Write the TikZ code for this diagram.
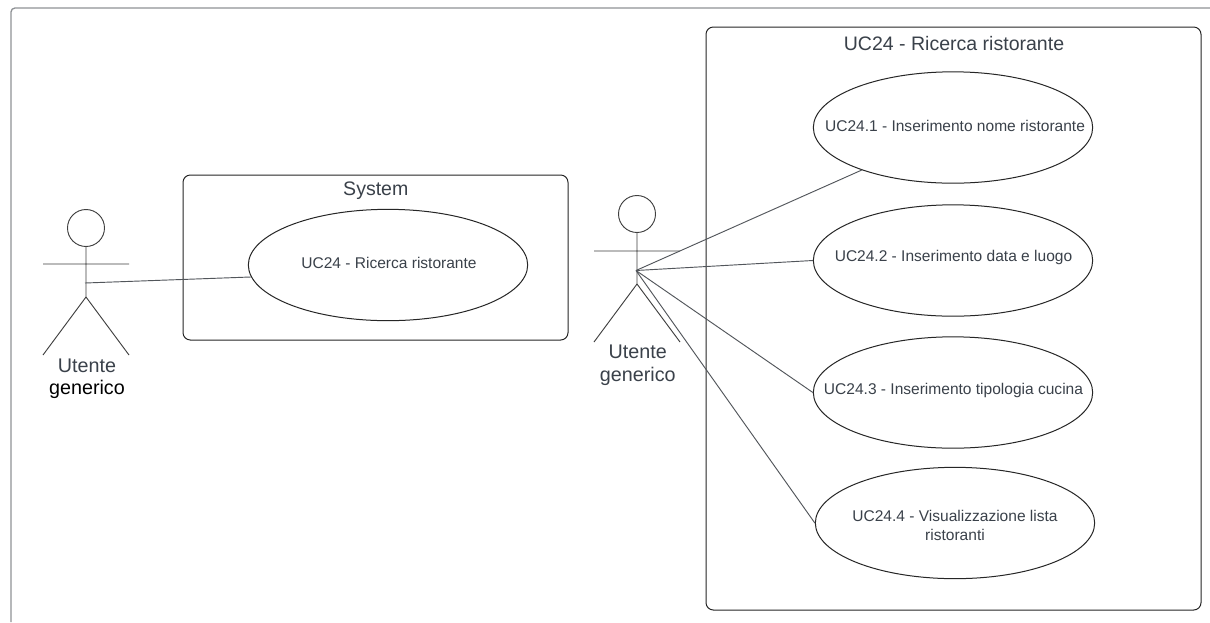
\documentclass[tikz,border=0pt]{standalone}
\usepackage{fontspec}
\setmainfont{Liberation Sans}
\usetikzlibrary{shapes.geometric}
\definecolor{ink}{HTML}{3A414A}
\definecolor{linec}{HTML}{33383E}
\definecolor{framec}{HTML}{8F9296}
\tikzset{
  x=0.75pt,y=-0.75pt,
  sysbox/.style={draw=black!85,line width=0.75pt,rounded corners=5.5pt,inner sep=0pt},
  usecase/.style={draw=black!85,line width=0.75pt,ellipse,inner sep=0pt,minimum width=209.5pt,minimum height=83.5pt},
  uctext/.style={align=center,text=ink,font=\fontsize{11.65}{14.25}\selectfont,inner sep=0pt},
  conn/.style={draw=linec!85,line width=0.7pt},
  stick/.style={draw=black!75,line width=0.7pt},
  actorlabel/.style={text=ink,font=\fontsize{14.8}{17.25}\selectfont,inner sep=0pt,align=center},
  title/.style={text=ink,font=\fontsize{14.65}{16}\selectfont,inner sep=0pt},
}
\begin{document}
\begin{tikzpicture}
\useasboundingbox (0,0) rectangle (1210,622);
\fill[white] (0,0) rectangle (1210,622);
\draw[draw=framec,line width=1pt,rounded corners=3pt] (11,622) -- (11,8) -- (1210,8);
% system box
\draw[sysbox] (183,175) rectangle (568,340);
\node[title] (systitle) at (375.8,191) {System};
\node[usecase] (uc) at (388,265) {};
\node[uctext] (uct) at (389,262.5) {UC24 - Ricerca ristorante};
% detail box
\draw[sysbox] (706,27) rectangle (1201,610);
\node[title] (dettitle) at (954,43.5) {UC24 - Ricerca ristorante};
\node[usecase] (e1) at (953,127.5) {};
\node[usecase] (e2) at (953,260.5) {};
\node[usecase] (e3) at (953,392.5) {};
\node[usecase] (e4) at (955,523) {};
\node[uctext] (e1t) at (955,125.5) {UC24.1 - Inserimento nome ristorante};
\node[uctext] (e2t) at (953.5,257.5) {UC24.2 - Inserimento data e luogo};
\node[uctext] (e3t) at (953.5,390.5) {UC24.3 - Inserimento tipologia cucina};
\node[uctext] (e4t) at (955,525.5) {UC24.4 - Visualizzazione lista\\ristoranti};
% actor 1
\node[stick,draw,circle,minimum size=27.75pt,inner sep=0pt] (h1) at (86,228) {};
\coordinate (hip1) at (86,297);
\coordinate (a1l) at (43,264);
\coordinate (a1r) at (129,264);
\coordinate (l1l) at (43,355);
\coordinate (l1r) at (129,355);
\coordinate (c1) at (85,283);
\draw[stick] (h1.south) -- (hip1) (a1l) -- (a1r) (l1l) -- (hip1) -- (l1r);
\node[actorlabel] (n1) at (87,366) {Utente};
\node[actorlabel,text=black] (n1b) at (87,389) {generico};
\draw[conn] (c1) -- (uc.185);
% actor 2
\node[stick,draw,circle,minimum size=27.75pt,inner sep=0pt] (h2) at (637,214) {};
\coordinate (hip2) at (637,284);
\coordinate (a2l) at (594,251);
\coordinate (a2r) at (680,251);
\coordinate (l2l) at (594,342);
\coordinate (l2r) at (680,342);
\coordinate (c2) at (636,270.5);
\draw[stick] (h2.south) -- (hip2) (a2l) -- (a2r) (l2l) -- (hip2) -- (l2r);
\node[actorlabel] (n2) at (637.8,365) {Utente\\generico};
\draw[conn] (c2) -- (e1.205);
\draw[conn] (c2) -- (e2.west);
\draw[conn] (c2) -- (e3.west);
\draw[conn] (c2) -- (e4.west);
\end{tikzpicture}
\end{document}
